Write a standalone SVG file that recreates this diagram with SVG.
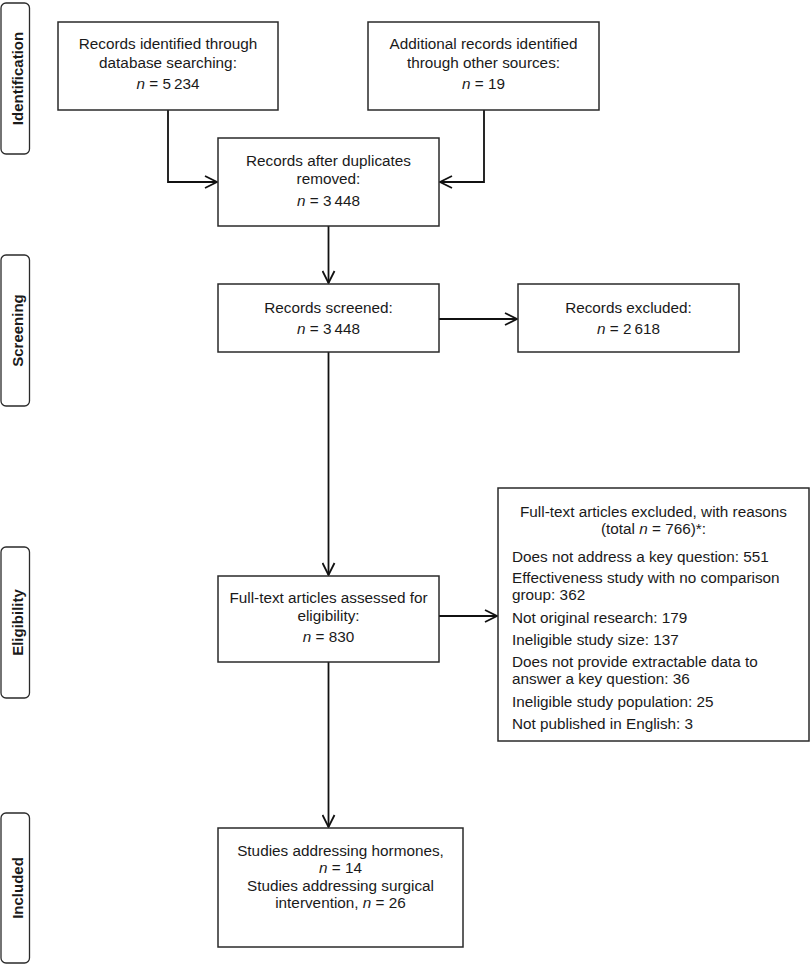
<svg xmlns="http://www.w3.org/2000/svg" width="812" height="965" viewBox="0 0 812 965">
<style>
  .box { fill: #ffffff; stroke: #2a2a2a; stroke-width: 1.5; }
  .tab { fill: #ffffff; stroke: #2a2a2a; stroke-width: 1.3; }
  .t { font-family: "Liberation Sans", Arial, sans-serif; font-size: 15.3px; fill: #1a1a1a; }
  .c { text-anchor: middle; }
  .tabt { font-family: "Liberation Sans", Arial, sans-serif; font-size: 15px; font-weight: bold; fill: #1a1a1a; text-anchor: middle; }
  .i { font-style: italic; }
  .line { fill: none; stroke: #111; stroke-width: 1.8; }
</style>
<defs>
  <marker id="arr" viewBox="0 0 14 14" refX="13" refY="7" markerWidth="14" markerHeight="14" markerUnits="userSpaceOnUse" orient="auto">
    <path d="M1,1 L13,7 L1,13" fill="none" stroke="#111" stroke-width="1.8"/>
  </marker>
</defs>
<rect width="812" height="965" fill="#ffffff"/>

<g id="tab-identification">
  <rect class="tab" x="1" y="3" width="28.5" height="151" rx="5"/>
  <text class="tabt" transform="translate(22.5,78.5) rotate(-90)">Identification</text>
</g>
<g id="tab-screening">
  <rect class="tab" x="1" y="255" width="28.5" height="151" rx="5"/>
  <text class="tabt" transform="translate(22.5,330.5) rotate(-90)">Screening</text>
</g>
<g id="tab-eligibility">
  <rect class="tab" x="1" y="547" width="28.5" height="151" rx="5"/>
  <text class="tabt" transform="translate(22.5,622.5) rotate(-90)">Eligibility</text>
</g>
<g id="tab-included">
  <rect class="tab" x="1" y="813" width="28.5" height="150" rx="5"/>
  <text class="tabt" transform="translate(22.5,888) rotate(-90)">Included</text>
</g>

<g id="connectors">
  <polyline class="line" points="168,110 168,182 217,182" marker-end="url(#arr)"/>
  <polyline class="line" points="484,110 484,182 440,182" marker-end="url(#arr)"/>
  <line class="line" x1="328.5" y1="226" x2="328.5" y2="283" marker-end="url(#arr)"/>
  <line class="line" x1="439" y1="319" x2="517" y2="319" marker-end="url(#arr)"/>
  <line class="line" x1="328.5" y1="352" x2="328.5" y2="575" marker-end="url(#arr)"/>
  <line class="line" x1="439" y1="616" x2="497" y2="616" marker-end="url(#arr)"/>
  <line class="line" x1="328.5" y1="662" x2="328.5" y2="827" marker-end="url(#arr)"/>
</g>

<g id="node-database">
  <rect class="box" x="58" y="22" width="220" height="88"/>
  <text class="t c" x="168" y="49">Records identified through</text>
  <text class="t c" x="168" y="68">database searching:</text>
  <text class="t c" x="168" y="88.5"><tspan class="i">n</tspan> = 5&#8201;234</text>
</g>
<g id="node-other">
  <rect class="box" x="368" y="22" width="231" height="88"/>
  <text class="t c" x="483.5" y="49">Additional records identified</text>
  <text class="t c" x="483.5" y="67.5">through other sources:</text>
  <text class="t c" x="483.5" y="89"><tspan class="i">n</tspan> = 19</text>
</g>
<g id="node-duplicates">
  <rect class="box" x="218" y="138" width="221" height="88"/>
  <text class="t c" x="328.5" y="166">Records after duplicates</text>
  <text class="t c" x="328.5" y="184">removed:</text>
  <text class="t c" x="328.5" y="205.5"><tspan class="i">n</tspan> = 3&#8201;448</text>
</g>
<g id="node-screened">
  <rect class="box" x="218" y="284" width="221" height="68"/>
  <text class="t c" x="328.5" y="312.5">Records screened:</text>
  <text class="t c" x="328.5" y="333.5"><tspan class="i">n</tspan> = 3&#8201;448</text>
</g>
<g id="node-excluded">
  <rect class="box" x="518" y="284" width="221" height="68"/>
  <text class="t c" x="628.5" y="312.5">Records excluded:</text>
  <text class="t c" x="628.5" y="333.5"><tspan class="i">n</tspan> = 2&#8201;618</text>
</g>
<g id="node-fulltext">
  <rect class="box" x="218" y="576" width="221" height="86"/>
  <text class="t c" x="328.5" y="603">Full-text articles assessed for</text>
  <text class="t c" x="328.5" y="621">eligibility:</text>
  <text class="t c" x="328.5" y="642"><tspan class="i">n</tspan> = 830</text>
</g>
<g id="node-reasons">
  <rect class="box" x="498" y="488" width="311" height="253"/>
  <text class="t c" x="653.5" y="516.5">Full-text articles excluded, with reasons</text>
  <text class="t c" x="653.5" y="533.5">(total <tspan class="i">n</tspan> = 766)*:</text>
  <text class="t" x="512" y="561.5">Does not address a key question: 551</text>
  <text class="t" x="512" y="582.5">Effectiveness study with no comparison</text>
  <text class="t" x="512" y="599.5">group: 362</text>
  <text class="t" x="512" y="622.5">Not original research: 179</text>
  <text class="t" x="512" y="644.5">Ineligible study size: 137</text>
  <text class="t" x="512" y="667">Does not provide extractable data to</text>
  <text class="t" x="512" y="684">answer a key question: 36</text>
  <text class="t" x="512" y="707">Ineligible study population: 25</text>
  <text class="t" x="512" y="728.5">Not published in English: 3</text>
</g>
<g id="node-included">
  <rect class="box" x="218" y="828" width="245" height="119"/>
  <text class="t c" x="340.5" y="856">Studies addressing hormones,</text>
  <text class="t c" x="340.5" y="873"><tspan class="i">n</tspan> = 14</text>
  <text class="t c" x="340.5" y="891">Studies addressing surgical</text>
  <text class="t c" x="340.5" y="908">intervention, <tspan class="i">n</tspan> = 26</text>
</g>
</svg>
